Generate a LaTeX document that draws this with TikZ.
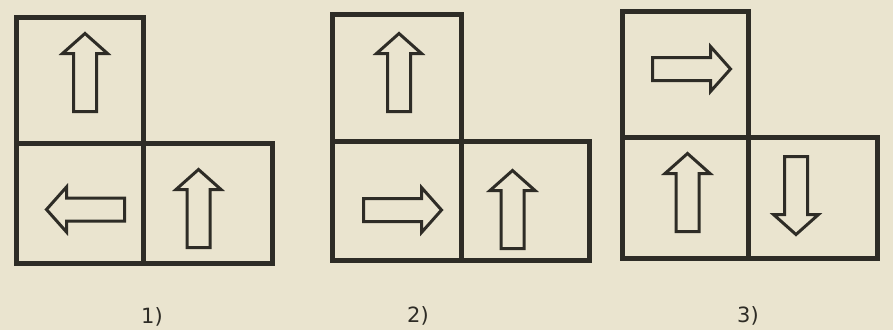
\documentclass[tikz,border=0pt]{standalone}
\usepackage{fontspec}
\setmainfont{DejaVu Sans}
\definecolor{paper}{RGB}{234,228,207}
\definecolor{ink}{RGB}{46,44,38}
\tikzset{
  cell/.style={draw=ink, line width=5pt, line join=miter},
  arrowline/.style={draw=ink, line width=3pt, line join=miter},
  lbl/.style={text=ink, font=\fontsize{21}{24}\selectfont, inner sep=0pt},
  blockarrow/.pic={\path[arrowline] (0,0) -- (22.5,20) -- (11.5,20) -- (11.5,78) -- (-11.5,78) -- (-11.5,20) -- (-22.5,20) -- cycle;}
}
\begin{document}
\begin{tikzpicture}[x=1pt,y=-1pt]
\fill[paper] (0,0) rectangle (893,330);
\useasboundingbox (0,0) rectangle (893,330);
% figure 1
\draw[cell] (16,17) rectangle (143,143) (16,143) rectangle (272,263) (143,143) -- (143,263);
\pic at (85,33.5) {blockarrow};
\pic[rotate=90] at (46.5,209.5) {blockarrow};
\pic at (198.5,169.5) {blockarrow};
\node[lbl] (l1) at (152,317) {1)};
% figure 2
\draw[cell] (332,14) rectangle (461,141) (332,141) rectangle (589,260) (461,141) -- (461,260);
\pic at (399,33.5) {blockarrow};
\pic[rotate=-90] at (441.5,210) {blockarrow};
\pic at (512.5,170.5) {blockarrow};
\node[lbl] (l2) at (418,316) {2)};
% figure 3
\draw[cell] (622,11) rectangle (748,137) (622,137) rectangle (877,258) (748,137) -- (748,258);
\pic[rotate=-90] at (730.5,69) {blockarrow};
\pic at (687.5,153.5) {blockarrow};
\pic[rotate=180] at (796,234.5) {blockarrow};
\node[lbl] (l3) at (748,316) {3)};
\end{tikzpicture}
\end{document}
